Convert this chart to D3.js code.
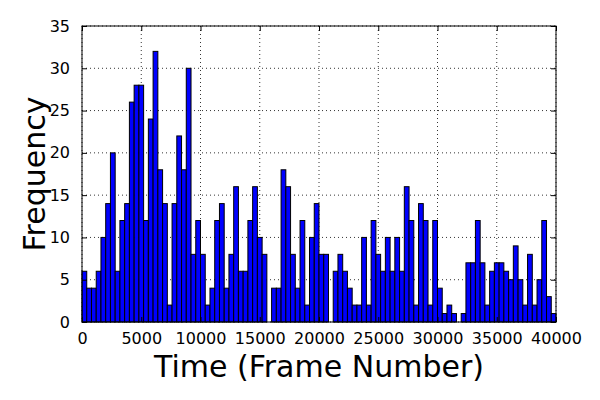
<!DOCTYPE html>
<html>
<head>
<meta charset="utf-8">
<script src="https://cdn.jsdelivr.net/npm/d3@7"></script>
<style>
	body {margin: 0; background: #fff;}
	svg text {font-family: "DejaVu Sans", sans-serif; fill: #000;}
</style>
</head>
<body>
<svg width="600" height="400"></svg>
<script>
'use strict';
// histogram counts, 100 bins of 400 frames from 0 to 40000
let aCounts = [
	6, 4, 4, 6, 10, 14, 20, 6, 12, 14, 26, 28, 28, 12, 24, 32, 18, 14, 2, 14,
	22, 18, 30, 8, 12, 8, 2, 4, 12, 14, 4, 8, 16, 6, 6, 12, 16, 10, 8, 0,
	4, 4, 18, 16, 8, 4, 12, 2, 10, 14, 8, 8, 0, 6, 8, 6, 4, 2, 2, 10,
	2, 12, 8, 6, 10, 6, 10, 6, 16, 12, 2, 14, 12, 2, 12, 4, 1, 2, 1, 0,
	1, 7, 7, 12, 7, 2, 6, 7, 7, 6, 5, 9, 5, 2, 8, 2, 5, 12, 3, 1]
let dBinWidth = 400
let aXTicks = [0, 5000, 10000, 15000, 20000, 25000, 30000, 35000, 40000]
let aYTicks = [0, 5, 10, 15, 20, 25, 30, 35]
let sXLabel = "Time (Frame Number)"
let sYLabel = "Frequency"

let eSvg = d3.select("svg"),
	dWidth = +eSvg.attr("width"),
	dHeight = +eSvg.attr("height")
let oMargin = {top: 26, right: 44, bottom: 78, left: 82}
let dInnerW = dWidth - oMargin.left - oMargin.right,
	dInnerH = dHeight - oMargin.top - oMargin.bottom

let sX = d3.scaleLinear().domain([0, 40000]).range([0, dInnerW])
let sY = d3.scaleLinear().domain([0, 35]).range([dInnerH, 0])

let eG = eSvg.append("g").attr("transform", `translate(${oMargin.left},${oMargin.top})`)

// dotted grid
eG.append("g").selectAll("line").data(aXTicks).enter().append("line")
	.attr("x1", d => sX(d)).attr("x2", d => sX(d))
	.attr("y1", 0).attr("y2", dInnerH)
	.attr("stroke", "#000").attr("stroke-width", 0.8).attr("stroke-dasharray", "1,3")
eG.append("g").selectAll("line").data(aYTicks).enter().append("line")
	.attr("x1", 0).attr("x2", dInnerW)
	.attr("y1", d => sY(d)).attr("y2", d => sY(d))
	.attr("stroke", "#000").attr("stroke-width", 0.8).attr("stroke-dasharray", "1,3")

// bars
eG.append("g").selectAll("rect").data(aCounts).enter().append("rect")
	.attr("x", (d, i) => sX(i * dBinWidth))
	.attr("width", sX(dBinWidth) - sX(0))
	.attr("y", d => sY(d))
	.attr("height", d => sY(0) - sY(d))
	.attr("fill", "#0000ff")
	.attr("stroke", "#000").attr("stroke-width", 1)

// axes with inward ticks on all sides
function styleAxis(eAx) {
	eAx.select(".domain").remove()
	eAx.selectAll(".tick line").attr("stroke", "#000")
	eAx.selectAll("text").attr("font-size", "16px")}

eG.append("g").attr("transform", `translate(0,${dInnerH})`)
	.call(d3.axisBottom(sX).tickValues(aXTicks).tickFormat(d3.format("d")).tickSizeInner(-5).tickPadding(11))
	.call(styleAxis)
eG.append("g")
	.call(d3.axisTop(sX).tickValues(aXTicks).tickFormat("").tickSizeInner(-5))
	.call(styleAxis)
eG.append("g")
	.call(d3.axisLeft(sY).tickValues(aYTicks).tickSizeInner(-5).tickPadding(12))
	.call(styleAxis)
eG.append("g").attr("transform", `translate(${dInnerW},0)`)
	.call(d3.axisRight(sY).tickValues(aYTicks).tickFormat("").tickSizeInner(-5))
	.call(styleAxis)

// frame
eG.append("rect").attr("width", dInnerW).attr("height", dInnerH)
	.attr("fill", "none").attr("stroke", "#000").attr("stroke-width", 1)

// axis titles
eSvg.append("text")
	.attr("x", oMargin.left + dInnerW / 2).attr("y", 377)
	.attr("text-anchor", "middle").attr("font-size", "30px")
	.text(sXLabel)
eSvg.append("text")
	.attr("transform", `translate(45,${oMargin.top + dInnerH / 2}) rotate(-90)`)
	.attr("text-anchor", "middle").attr("font-size", "30px")
	.text(sYLabel)
</script>
</body>
</html>
